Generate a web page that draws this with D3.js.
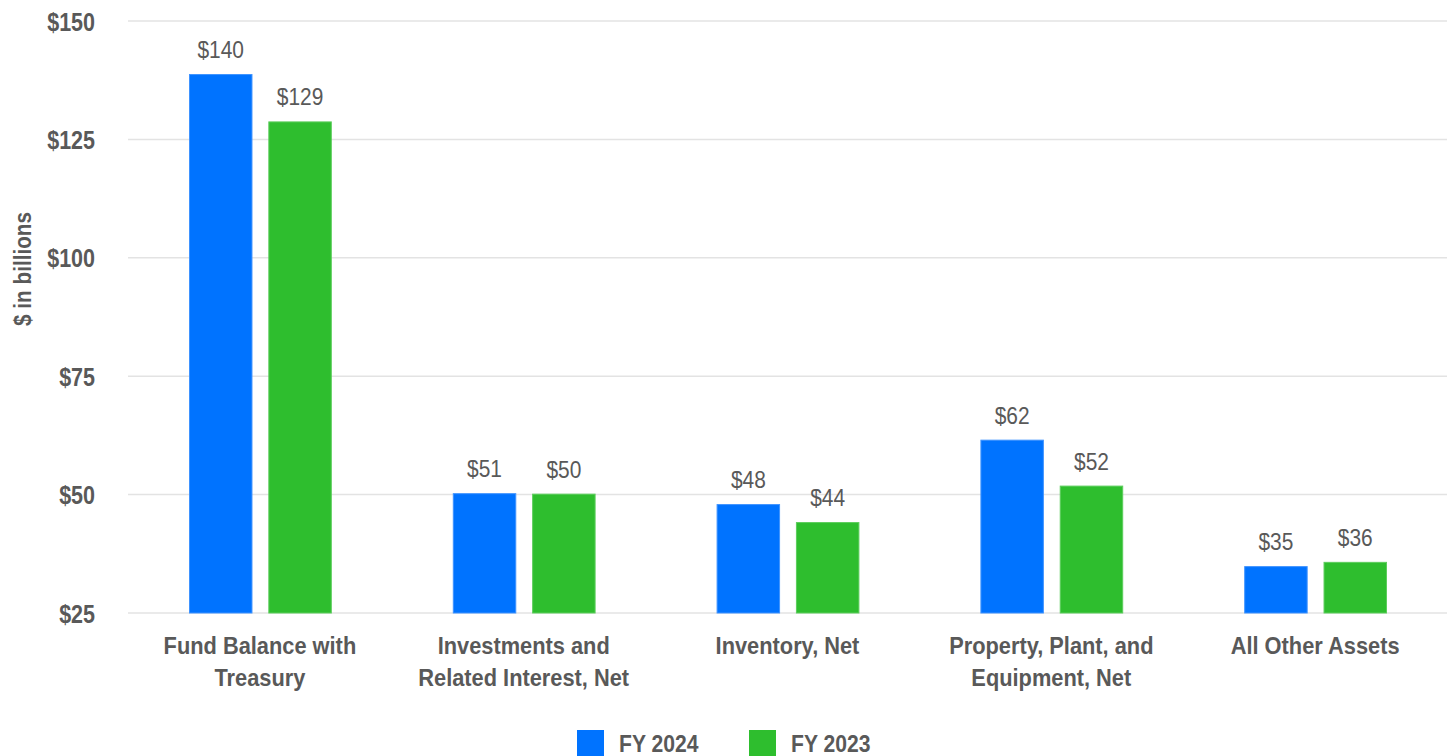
<!DOCTYPE html>
<html>
<head>
<meta charset="utf-8">
<script src="https://cdn.jsdelivr.net/npm/d3@7"></script>
<style>
  body { margin: 0; background: #fff; }
  .canvas text { font-family: "Liberation Sans Narrow", "Arial Narrow", "Liberation Sans", Arial, sans-serif; fill: #595959; }
</style>
</head>
<body>
<div class="canvas"></div>
<script>
// data
const categories = [
  ['Fund Balance with', 'Treasury'],
  ['Investments and', 'Related Interest, Net'],
  ['Inventory, Net'],
  ['Property, Plant, and', 'Equipment, Net'],
  ['All Other Assets']
];
const seriesNames = ['FY 2024', 'FY 2023'];
const fy2024 = [138.8, 50.3, 48.0, 61.6, 34.9];
const fy2023 = [128.8, 50.2, 44.2, 51.9, 35.8];
const fy2024Labels = ['$140', '$51', '$48', '$62', '$35'];
const fy2023Labels = ['$129', '$50', '$44', '$52', '$36'];
const yTicks = [25, 50, 75, 100, 125, 150];
const colors = ['#0073ff', '#2ebe2e'];
const edges = ['#3f93ff', '#5ccd5c'];

const svg = d3.select('.canvas')
  .append('svg')
  .attr('width', 1450)
  .attr('height', 756);

const margin = { top: 21, right: 3, bottom: 143, left: 128 };
const graphWidth = 1450 - margin.left - margin.right;
const graphHeight = 756 - margin.top - margin.bottom;

const graph = svg.append('g')
  .attr('transform', `translate(${margin.left},${margin.top})`);

// the original uses a narrow face, so squeeze the text horizontally
const squeeze = (sel, x, y, sx) => sel
  .attr('x', 0).attr('y', 0)
  .attr('transform', `translate(${x},${y}) scale(${sx},1)`);

// scales
const y = d3.scaleLinear()
  .domain([25, 150])
  .range([graphHeight, 0]);

const x = d3.scaleBand()
  .domain(d3.range(categories.length))
  .range([0, graphWidth]);

const x1 = d3.scaleBand()
  .domain([0, 1])
  .range([61, x.bandwidth() - 60])
  .paddingInner(0.2);

// gridlines
graph.append('g')
  .selectAll('line')
  .data(yTicks)
  .enter().append('line')
  .attr('x1', 0)
  .attr('x2', graphWidth)
  .attr('y1', d => y(d))
  .attr('y2', d => y(d))
  .attr('stroke', '#e3e3e3')
  .attr('stroke-width', 1.5);

// y axis
const tickSx = 0.86;
const yAxis = d3.axisLeft(y)
  .tickValues(yTicks)
  .tickFormat(d => '$' + d)
  .tickSize(0)
  .tickPadding(33);

const yAxisGroup = graph.append('g').call(yAxis);
yAxisGroup.select('.domain').remove();
yAxisGroup.selectAll('text')
  .attr('font-size', 25)
  .attr('font-weight', 'bold')
  .attr('dy', '0.36em')
  .attr('x', -33 / tickSx)
  .attr('transform', `scale(${tickSx},1)`);

svg.append('text')
  .attr('transform', 'translate(31,269) rotate(-90) scale(0.9,1)')
  .attr('text-anchor', 'middle')
  .attr('font-size', 23)
  .attr('font-weight', 'bold')
  .text('$ in billions');

// bars
const series = [
  { values: fy2024, labels: fy2024Labels },
  { values: fy2023, labels: fy2023Labels }
];

const groups = graph.selectAll('g.cat')
  .data(categories)
  .enter().append('g')
  .attr('class', 'cat')
  .attr('transform', (d, i) => `translate(${x(i)},0)`);

series.forEach((s, si) => {
  groups.append('rect')
    .attr('x', x1(si) + 0.5)
    .attr('width', x1.bandwidth() - 1)
    .attr('y', (d, i) => y(s.values[i]) + 0.5)
    .attr('height', (d, i) => graphHeight - y(s.values[i]) - 0.5)
    .attr('fill', colors[si])
    .attr('stroke', edges[si])
    .attr('stroke-width', 1);

  groups.append('text')
    .each(function (d, i) {
      squeeze(d3.select(this), x1(si) + x1.bandwidth() / 2, y(s.values[i]) - 16, 0.91);
    })
    .attr('text-anchor', 'middle')
    .attr('font-size', 23)
    .text((d, i) => s.labels[i]);
});

// category labels
groups.each(function (lines) {
  d3.select(this).selectAll('text.cat-label')
    .data(lines)
    .enter().append('text')
    .attr('class', 'cat-label')
    .each(function (d, i) {
      squeeze(d3.select(this), x.bandwidth() / 2, graphHeight + 41 + i * 32, 0.89);
    })
    .attr('text-anchor', 'middle')
    .attr('font-size', 24.5)
    .attr('font-weight', 'bold')
    .text(d => d);
});

// legend
const legend = svg.append('g')
  .attr('transform', 'translate(577,730)');

const items = legend.selectAll('g')
  .data(seriesNames)
  .enter().append('g')
  .attr('transform', (d, i) => `translate(${i * 172},0)`);

items.append('rect')
  .attr('width', 27)
  .attr('height', 27)
  .attr('fill', (d, i) => colors[i]);

items.append('text')
  .each(function () { squeeze(d3.select(this), 42, 22, 0.88); })
  .attr('font-size', 24)
  .attr('font-weight', 'bold')
  .text(d => d);
</script>
</body>
</html>
